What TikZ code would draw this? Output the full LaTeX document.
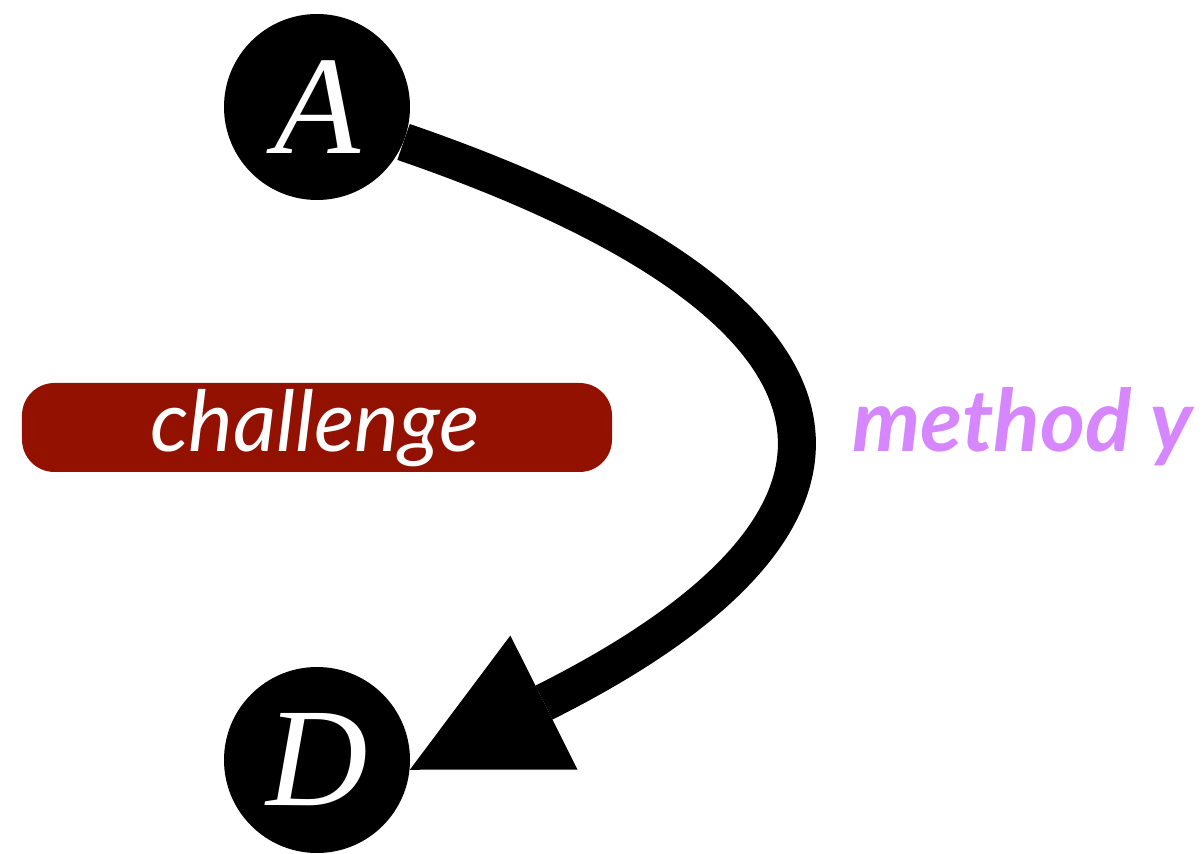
\documentclass[tikz,border=0pt]{standalone}
\usepackage{fontspec}
\setmainfont{Liberation Serif}
\newfontfamily\latofont{Lato}
\usetikzlibrary{arrows.meta}
\definecolor{chred}{RGB}{147,17,0}
\definecolor{methpurple}{RGB}{214,134,255}
\tikzset{
  statenode/.style={circle, fill=black, inner sep=0pt, minimum size=3.72cm,
    text=white, font=\fontsize{80}{80}\selectfont\itshape},
  challengebox/.style={rectangle, fill=chred, rounded corners=0.65cm,
    minimum width=11.8cm, minimum height=1.78cm, inner sep=0pt},
  challengetext/.style={text=white, font=\latofont\itshape\fontsize{48}{48}\selectfont, inner sep=0pt},
  methodtext/.style={text=methpurple, font=\latofont\bfseries\itshape\fontsize{49}{49}\selectfont, inner sep=0pt},
  bigarrow/.style={line width=0.76cm, -{Triangle[length=3cm,width=3cm,line width=0pt]}}
}
\begin{document}
\begin{tikzpicture}
\useasboundingbox (0,0) rectangle (24.08,17.06);
\node[statenode] (A) at (6.34,14.92) {A};
\node[statenode] (D) at (6.34,1.86) {D};
\node[challengebox] (box) at (6.34,8.51) {};
\node[challengetext, anchor=base] (ch) at (6.30,8.02) {challenge};
\node[methodtext, anchor=base west] (my) at (17.04,8.02) {method y};
\draw[bigarrow] (A.-22) .. controls +(-19:10.2cm) and +(26.6:11.3cm) .. (D.-6);
\end{tikzpicture}
\end{document}
